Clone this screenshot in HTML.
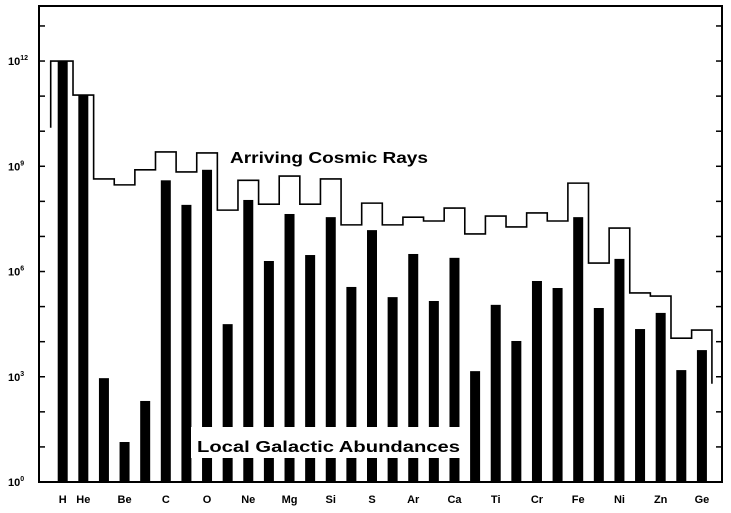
<!DOCTYPE html>
<html><head><meta charset="utf-8"><style>
body{margin:0;background:#fff;}
svg{display:block;font-family:"Liberation Sans",sans-serif;}
</style></head><body>
<svg id="chart" width="731" height="513" viewBox="0 0 731 513">
<rect x="0" y="0" width="731" height="513" fill="#fff"/>
<g id="bars"></g>
<path id="steps" fill="none" stroke="#000" stroke-width="1.6"/>
<rect x="39" y="6" width="683" height="476" fill="none" stroke="#000" stroke-width="2"/>
<g id="ticks"></g>
<g id="xlabels"></g>
<rect x="191" y="427" width="275" height="31" fill="#fff"/>
<text x="197" y="452" font-size="16" font-weight="bold" textLength="263" lengthAdjust="spacingAndGlyphs">Local Galactic Abundances</text>
<text x="230" y="163" font-size="16" font-weight="bold" textLength="198" lengthAdjust="spacingAndGlyphs">Arriving Cosmic Rays</text>
</svg>
<script>
const elements = ["H","He","Li","Be","B","C","N","O","F","Ne","Na","Mg","Al","Si","P","S","Cl","Ar","K","Ca","Sc","Ti","V","Cr","Mn","Fe","Co","Ni","Cu","Zn","Ga","Ge"];
const galacticLog = [12,11.03,2.96,1.14,2.31,8.6,7.9,8.9,4.5,8.04,6.3,7.64,6.47,7.55,5.56,7.18,5.27,6.5,5.16,6.39,3.16,5.05,4.02,5.73,5.53,7.55,4.96,6.36,4.36,4.82,3.19,3.76];
const cosmicLog = [12,11.03,8.64,8.47,8.9,9.41,8.84,9.38,7.75,8.6,7.92,8.72,7.92,8.64,7.33,7.95,7.33,7.55,7.44,7.81,7.07,7.58,7.27,7.67,7.44,8.52,6.24,7.24,5.39,5.3,4.1,4.33];
const yTickLabels = ["0","3","6","9","12"];
const yTickValues = [0,3,6,9,12];
const shownLabels = ["H","He","Be","C","O","Ne","Mg","Si","S","Ar","Ca","Ti","Cr","Fe","Ni","Zn","Ge"];

const NS="http://www.w3.org/2000/svg";
const y0=482, dec=35.08, x0=62.7, dx=20.62;
const yS=v=>y0-v*dec;
const xS=i=>x0+i*dx;

const bars=document.getElementById('bars');
elements.forEach((e,i)=>{
  const r=document.createElementNS(NS,'rect');
  r.setAttribute('x',xS(i)-5);
  r.setAttribute('y',yS(galacticLog[i]));
  r.setAttribute('width',10);
  r.setAttribute('height',y0-yS(galacticLog[i]));
  r.setAttribute('fill','#000');
  
  
  bars.appendChild(r);
});

let d='M'+(xS(0)-12)+','+yS(10.1);
cosmicLog.forEach((v,i)=>{
  const l=i===0?xS(0)-12:xS(i)-dx/2;
  const r=i===cosmicLog.length-1?xS(i)+10:xS(i)+dx/2;
  d+=' L'+l+','+yS(v)+' L'+r+','+yS(v);
});
d+=' L'+(xS(cosmicLog.length-1)+10)+','+yS(2.8);
document.getElementById('steps').setAttribute('d',d);

const ticks=document.getElementById('ticks');
for(let k=0;k<=13;k++){
  const y=yS(k);
  if(y<8) continue;
  [[39,45],[716,722]].forEach(p=>{
    const t=document.createElementNS(NS,'line');
    t.setAttribute('x1',p[0]);t.setAttribute('x2',p[1]);
    t.setAttribute('y1',y);t.setAttribute('y2',y);
    t.setAttribute('stroke','#000');t.setAttribute('stroke-width','1.5');
    
    
    ticks.appendChild(t);
  });
}
yTickValues.forEach((v,i)=>{
  const t=document.createElementNS(NS,'text');
  t.setAttribute('x',8);t.setAttribute('y',yS(v)+4);
  t.setAttribute('font-size','11');t.setAttribute('font-weight','bold');
  
  
  t.textContent='10';
  const s=document.createElementNS(NS,'tspan');
  s.setAttribute('dy','-5');s.setAttribute('font-size','7');
  s.textContent=yTickLabels[i];
  t.appendChild(s);
  ticks.appendChild(t);
});

const xl=document.getElementById('xlabels');
shownLabels.forEach(e=>{
  const i=elements.indexOf(e);
  const t=document.createElementNS(NS,'text');
  t.setAttribute('x',xS(i));t.setAttribute('y',503);
  t.setAttribute('text-anchor','middle');
  t.setAttribute('font-size','11');t.setAttribute('font-weight','bold');
  
  
  t.textContent=e;
  xl.appendChild(t);
});
</script>
</body></html>
